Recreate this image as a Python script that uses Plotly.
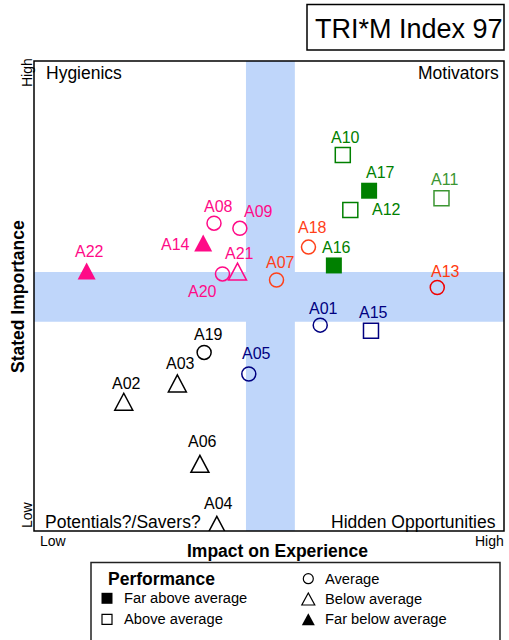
import plotly.graph_objects as go

FONT = "Liberation Sans, Arial, Helvetica, sans-serif"

# ---- data: attribute scores on a 0-100 scale ----
codes = ["A01", "A02", "A03", "A04", "A05", "A06", "A07", "A08", "A09", "A10", "A11",
         "A12", "A13", "A14", "A15", "A16", "A17", "A18", "A19", "A20", "A21", "A22"]
impact = [60.9, 19.1, 30.5, 38.9, 45.7, 35.3, 51.6, 38.3, 43.8, 65.7, 86.7,
          67.3, 85.8, 36.0, 71.7, 63.8, 71.3, 58.4, 36.2, 40.1, 43.3, 11.2]
importance = [43.8, 27.5, 31.4, 1.3, 33.4, 14.3, 53.4, 65.5, 64.4, 80.0, 70.8,
              68.3, 51.8, 61.3, 42.6, 56.5, 72.4, 60.4, 38.0, 54.7, 55.2, 55.3]
performance = ["average", "below", "below", "below", "average", "below", "average",
               "average", "average", "above", "above", "above", "average", "far_below",
               "above", "far_above", "far_above", "average", "average", "average",
               "below", "far_below"]

# average zone on each axis
impact_avg_zone = [45.1, 55.5]
importance_avg_zone = [44.5, 55.1]

quadrants = ["Hygienics", "Motivators", "Potentials?/Savers?", "Hidden Opportunities"]
perf_levels = ["far_above", "above", "average", "below", "far_below"]
perf_names = ["Far above average", "Above average", "Average", "Below average",
              "Far below average"]

# ---- styling ----
PINK, ORANGE, RED, GREEN, LGREEN, NAVY, BLACK = (
    "#ff0a87", "#ff4019", "#f00000", "#008000", "#3c9632", "#000080", "#000000")
BAND = "#bfd6fa"

color_of = {
    "A01": NAVY, "A05": NAVY, "A15": NAVY,
    "A02": BLACK, "A03": BLACK, "A04": BLACK, "A06": BLACK, "A19": BLACK,
    "A07": ORANGE, "A18": ORANGE, "A13": RED,
    "A08": PINK, "A09": PINK, "A14": PINK, "A20": PINK, "A21": PINK, "A22": PINK,
    "A10": GREEN, "A12": GREEN, "A16": GREEN, "A17": GREEN, "A11": LGREEN,
}
label_color = dict(color_of, A13="#ff3a10")

# label offset in pixels (dx right, dy up) from each marker
label_shift = {c: (3, 18) for c in codes}
label_shift.update({
    "A17": (11, 18), "A12": (36, 0), "A11": (3, 19), "A18": (4, 20), "A13": (8, 16),
    "A01": (3, 17), "A07": (4, 18), "A08": (4, 17), "A09": (19, 17), "A14": (-28, -2),
    "A22": (3, 20), "A20": (-20, -18), "A21": (2, 18), "A19": (4, 18), "A05": (8, 21),
    "A03": (3, 20), "A06": (3, 22), "A04": (2, 21),
})

# squares and circles use scatter symbols; triangles are drawn as pixel-sized paths
symbol_of = {"far_above": "square", "above": "square-open", "average": "circle-open"}
size_of = {"far_above": 16, "above": 15, "average": 14}
triangle_filled = {"below": False, "far_below": True}


def tri_path(w, h):
    return f"M{-w / 2},{-h / 2} L{w / 2},{-h / 2} L0,{h / 2} Z"


fig = go.Figure()

for lvl in ["far_above", "above", "average"]:
    idx = [i for i, p in enumerate(performance) if p == lvl]
    cols = [color_of[codes[i]] for i in idx]
    is_open = symbol_of[lvl].endswith("open")
    fig.add_trace(go.Scatter(
        x=[impact[i] for i in idx], y=[importance[i] for i in idx],
        mode="markers", cliponaxis=False, hoverinfo="text",
        text=[codes[i] for i in idx],
        marker=dict(symbol=symbol_of[lvl], size=size_of[lvl], color=cols,
                    line=dict(color=cols, width=1.5 if is_open else 0)),
    ))

for c, xv, yv, p in zip(codes, impact, importance, performance):
    if p in triangle_filled:
        col = color_of[c]
        filled = triangle_filled[p]
        fig.add_shape(type="path", xref="x", yref="y", xsizemode="pixel",
                      ysizemode="pixel", xanchor=xv, yanchor=yv, path=tri_path(18, 17),
                      fillcolor=col if filled else "rgba(0,0,0,0)",
                      line=dict(color=col, width=0 if filled else 1.5), layer="above")

for c, xv, yv in zip(codes, impact, importance):
    dx, dy = label_shift[c]
    fig.add_annotation(x=xv, y=yv, xref="x", yref="y", text=c, showarrow=False,
                       xshift=dx, yshift=dy, xanchor="center", yanchor="middle",
                       font=dict(family=FONT, size=16, color=label_color[c]))

# average bands and frame
fig.add_shape(type="rect", xref="x", yref="y domain", x0=impact_avg_zone[0],
              x1=impact_avg_zone[1], y0=0, y1=1, fillcolor=BAND, line_width=0, layer="below")
fig.add_shape(type="rect", xref="x domain", yref="y", x0=0, x1=1,
              y0=importance_avg_zone[0], y1=importance_avg_zone[1],
              fillcolor=BAND, line_width=0, layer="below")
fig.add_shape(type="rect", xref="x domain", yref="y domain", x0=0, x1=1, y0=0, y1=1,
              line=dict(color="black", width=1.5), layer="below")


# page-level items placed on a pixel grid (x2/y2)
def ptext(x, y, text, size, xanchor="center", bold=False, angle=0, color="black"):
    fig.add_annotation(x=x, y=y, xref="x2", yref="y2", text=f"<b>{text}</b>" if bold else text,
                       showarrow=False, xanchor=xanchor, yanchor="middle", textangle=angle,
                       font=dict(family=FONT, size=size, color=color))


# quadrant names
ptext(44, 73.3, quadrants[0], 17.5, "left")
ptext(501, 73.3, quadrants[1], 17.5, "right")
ptext(43, 521.7, quadrants[2], 17.5, "left")
ptext(498, 521.7, quadrants[3], 17.5, "right")

# axis end labels and titles
ptext(38, 541, "Low", 14, "left")
ptext(506, 541, "High", 14, "right")
ptext(27, 73, "High", 14, angle=-90)
ptext(27, 515, "Low", 14, angle=-90)
ptext(277, 550.7, "Impact on Experience", 17.5, bold=True)
ptext(18, 297, "Stated Importance", 17.5, bold=True, angle=-90)

# index box
fig.add_shape(type="rect", xref="x2", yref="y2", x0=307, x1=504, y0=4.5, y1=50,
              line=dict(color="black", width=1.5))
ptext(409, 28.5, "TRI*M Index 97", 27)

# performance key
fig.add_shape(type="rect", xref="x2", yref="y2", x0=91, x1=500, y0=562.5, y1=700,
              line=dict(color="#222222", width=1.5))
ptext(106, 579, "Performance", 17.5, "left", bold=True)
key_pos = {"far_above": (107, 598.3), "above": (107, 619.3), "average": (308.3, 578.7),
           "below": (308.3, 599), "far_below": (308.3, 619.3)}
key_size = {"far_above": 11, "above": 10, "average": 10}
for lvl, name in zip(perf_levels, perf_names):
    kx, ky = key_pos[lvl]
    if lvl in symbol_of:
        open_ = symbol_of[lvl].endswith("open")
        fig.add_trace(go.Scatter(
            x=[kx], y=[ky], xaxis="x2", yaxis="y2", mode="markers", hoverinfo="skip",
            cliponaxis=False,
            marker=dict(symbol=symbol_of[lvl], size=key_size[lvl], color="black",
                        line=dict(color="black", width=1.2 if open_ else 0)),
        ))
    else:
        filled = triangle_filled[lvl]
        fig.add_shape(type="path", xref="x2", yref="y2", xsizemode="pixel",
                      ysizemode="pixel", xanchor=kx, yanchor=ky, path=tri_path(13, 12),
                      fillcolor="black" if filled else "rgba(0,0,0,0)",
                      line=dict(color="black", width=0 if filled else 1.2))
    ptext(kx + 15, ky, name, 14.7, "left")

fig.update_layout(
    width=509, height=640, margin=dict(l=0, r=0, t=0, b=0),
    paper_bgcolor="white", plot_bgcolor="rgba(0,0,0,0)", showlegend=False,
    xaxis=dict(domain=[34 / 509, 504 / 509], range=[0, 100], visible=False),
    yaxis=dict(domain=[109 / 640, 579 / 640], range=[0, 100], visible=False),
    xaxis2=dict(domain=[0, 1], range=[0, 509], visible=False, anchor="y2"),
    yaxis2=dict(domain=[0, 1], range=[640, 0], visible=False, anchor="x2"),
)

fig.write_html("out.html")
